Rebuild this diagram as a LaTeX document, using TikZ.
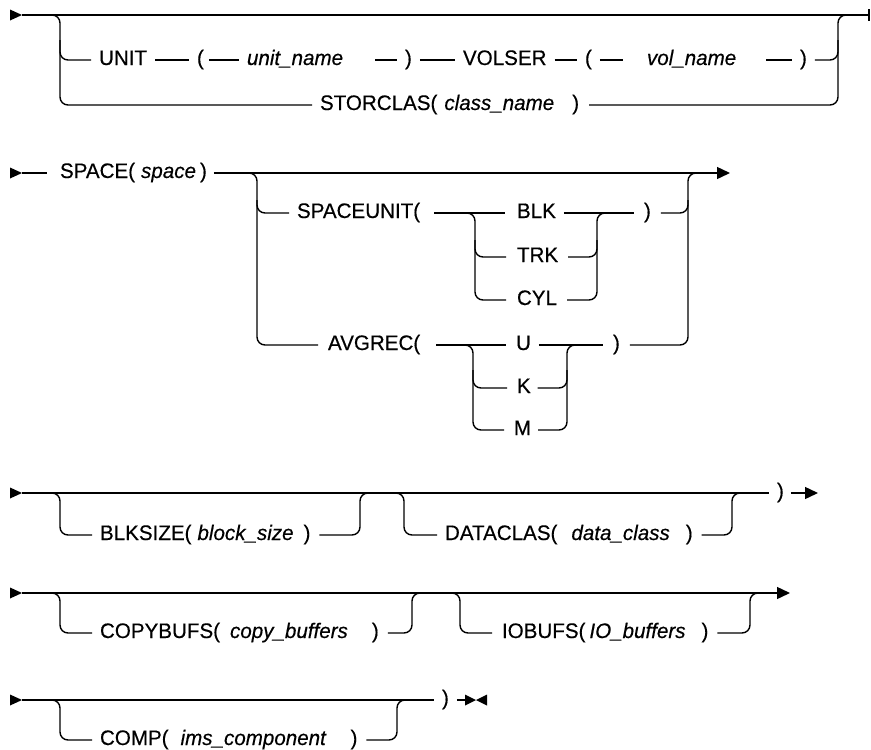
\documentclass[tikz,border=0pt]{standalone}
\usepackage{fontspec}
\setmainfont{Liberation Sans}[FakeStretch=0.98,FakeBold=0.4]
\usetikzlibrary{arrows.meta}
\newcommand\rrfont{\fontsize{21}{24}\selectfont}
\tikzset{
  kw/.style={inner sep=0pt, outer sep=0pt, anchor=west, text height=12pt, text depth=2pt, font=\rrfont},
  var/.style={kw, font=\rrfont\itshape},
  lw/.style={line width=1.4pt},
  ln/.style={lw, shorten <=8pt, shorten >=8pt},
  rl/.style={lw, rounded corners=8pt},
  endarrow/.style={lw, -{Triangle[length=13pt,width=12pt]}},
}
\begin{document}
\begin{tikzpicture}[x=1pt,y=-1pt]
\useasboundingbox (0,0) rectangle (871,750);

% ---------------- Row 1 ----------------
\coordinate (s1) at (10,15);
\coordinate (e1) at (869,15);
\fill (s1) ++(0,-5.5) -- ++(12,5.5) -- ++(-12,5.5) -- cycle;
\draw[lw] (22,15) -- (e1);
\draw[lw] (e1) ++(0,-6) -- ++(0,12);

\node[kw] (unit) at (99,60) {UNIT};
\node[kw] (lpa) at (197,60) {(};
\node[var] (uname) at (247,60) {unit\_name};
\node[kw] (rpa) at (405,60) {)};
\node[kw] (volser) at (463,60) {VOLSER};
\node[kw] (lpb) at (585,60) {(};
\node[var] (vname) at (647,60) {vol\_name};
\node[kw] (rpb) at (800,60) {)};
\node[kw] (storc) at (320,105) {STORCLAS(\hspace{7pt}\textit{class\_name}\hspace{18pt})};

\draw[ln] (unit) -- (lpa);
\draw[ln, shorten <=5pt] (lpa) -- (uname);
\draw[ln, shorten <=32pt] (uname) -- (rpa);
\draw[ln] (rpa) -- (volser);
\draw[ln] (volser) -- (lpb);
\draw[ln, shorten >=24pt] (lpb) -- (vname);
\draw[ln, shorten <=30pt] (vname) -- (rpb);

\draw[rl, shorten >=8pt] (44,15) -| (60,60) -- (unit);
\draw[rl, shorten >=8pt] (60,40) |- (storc);
\draw[rl, shorten <=8pt] (rpb) -| (838,37) |- (854,15);
\draw[rl, shorten <=10pt] (storc) -| (838,40);

% ---------------- Row 2 ----------------
\coordinate (s2) at (10,173);
\coordinate (e2) at (730,173);
\fill (s2) ++(0,-5.5) -- ++(12,5.5) -- ++(-12,5.5) -- cycle;
\node[kw] (space) at (60,173) {SPACE(\hspace{6pt}\textit{space}\hspace{4pt})};
\draw[lw, shorten >=13pt] (22,173) -- (space);
\draw[endarrow, shorten <=7pt] (space) -- (e2);

\node[kw] (spu) at (297,213) {SPACEUNIT(};
\node[kw] (blk) at (517,213) {BLK};
\node[kw] (trk) at (517,257) {TRK};
\node[kw] (cyl) at (517,300) {CYL};
\node[kw] (rpd) at (644,213) {)};
\node[kw] (avg) at (328,345) {AVGREC(};
\node[kw] (uu) at (516,345) {U};
\node[kw] (kk) at (517,388) {K};
\node[kw] (mm) at (514,430) {M};
\node[kw] (rpe) at (613,345) {)};

% outer rails
\draw[rl, shorten >=8pt] (241,173) -| (257,213) -- (spu);
\draw[rl, shorten >=10pt] (257,200) |- (avg);
\draw[rl, shorten <=10pt] (rpd) -| (688,195) |- (704,173);
\draw[rl, shorten <=10pt] (rpe) -| (688,200);

% SPACEUNIT group
\draw[ln, shorten <=14pt, shorten >=12pt] (spu) -- (blk);
\draw[rl, shorten >=11pt] (459,213) -| (475,257) -- (trk);
\draw[rl, shorten >=11pt] (475,240) |- (cyl);
\draw[ln, shorten >=10pt] (blk) -- (rpd);
\draw[rl, shorten <=10pt] (trk) -| (597,235) |- (613,213);
\draw[rl, shorten <=10pt] (cyl) -| (597,240);

% AVGREC group
\draw[ln, shorten <=16pt, shorten >=10pt] (avg) -- (uu);
\draw[rl, shorten >=10pt] (457,345) -| (473,388) -- (kk);
\draw[rl, shorten >=10pt] (473,370) |- (mm);
\draw[ln, shorten >=10pt] (uu) -- (rpe);
\draw[rl, shorten <=7pt] (kk) -| (567,366) |- (583,345);
\draw[rl, shorten <=7pt] (mm) -| (567,370);

% ---------------- Row 3 ----------------
\coordinate (s3) at (10,493);
\coordinate (e3) at (818,493);
\fill (s3) ++(0,-5.5) -- ++(12,5.5) -- ++(-12,5.5) -- cycle;
\node[kw] (rpf) at (777,493) {)};
\draw[lw, shorten >=8pt] (22,493) -- (rpf);
\draw[endarrow, shorten <=7pt] (rpf) -- (e3);

\node[kw] (blks) at (100,535) {BLKSIZE(\hspace{6pt}\textit{block\_size}\hspace{10pt})};
\node[kw] (datac) at (445,535) {DATACLAS(\hspace{14pt}\textit{data\_class}\hspace{16pt})};
\draw[rl, shorten >=8pt] (44,493) -| (60,535) -- (blks);
\draw[rl, shorten <=9pt] (blks) -| (360,510) |- (376,493);
\draw[rl, shorten >=8pt] (388,493) -| (404,535) -- (datac);
\draw[rl, shorten <=9pt] (datac) -| (732,510) |- (748,493);

% ---------------- Row 4 ----------------
\coordinate (s4) at (10,593);
\coordinate (e4) at (790,593);
\fill (s4) ++(0,-5.5) -- ++(12,5.5) -- ++(-12,5.5) -- cycle;
\draw[endarrow] (22,593) -- (e4);

\node[kw] (copyb) at (100,633) {COPYBUFS(\hspace{10pt}\textit{copy\_buffers}\hspace{24pt})};
\node[kw] (iob) at (502,633) {IOBUFS(\hspace{4pt}\textit{IO\_buffers}\hspace{16pt})};
\draw[rl, shorten >=8pt] (44,593) -| (60,633) -- (copyb);
\draw[rl, shorten <=9pt] (copyb) -| (412,610) |- (428,593);
\draw[rl, shorten >=10pt] (444,593) -| (460,633) -- (iob);
\draw[rl, shorten <=9pt] (iob) -| (750,610) |- (766,593);

% ---------------- Row 5 ----------------
\coordinate (s5) at (10,700);
\coordinate (emk) at (466,700);
\fill (s5) ++(0,-5.5) -- ++(12,5.5) -- ++(-12,5.5) -- cycle;
\node[kw] (rpg) at (442,700) {)};
\draw[lw, shorten >=8pt] (22,700) -- (rpg);
\draw[lw, shorten <=8pt] (rpg) -- (emk);
\fill (465,694.5) -- (476,700) -- (465,705.5) -- cycle;
\fill (487,694.5) -- (476,700) -- (487,705.5) -- cycle;

\node[kw] (comp) at (100,740) {COMP(\hspace{12pt}\textit{ims\_component}\hspace{24pt})};
\draw[rl, shorten >=8pt] (44,700) -| (60,740) -- (comp);
\draw[rl, shorten <=9pt] (comp) -| (397,717) |- (413,700);
\end{tikzpicture}
\end{document}
